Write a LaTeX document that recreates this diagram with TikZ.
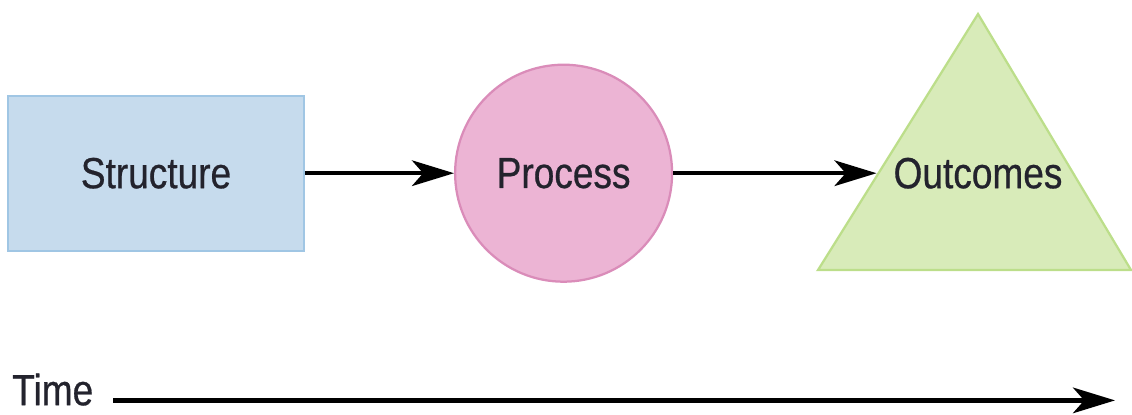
\documentclass[tikz,border=0pt]{standalone}
\usepackage{fontspec}
\setmainfont{Liberation Sans}[FakeStretch=0.85, FakeBold=0.6]
\usepackage{tikz}
\usetikzlibrary{arrows.meta, positioning}
\definecolor{structfill}{RGB}{198,219,237}
\definecolor{structline}{RGB}{160,198,228}
\definecolor{procfill}{RGB}{236,180,212}
\definecolor{procline}{RGB}{218,140,185}
\definecolor{outfill}{RGB}{216,235,185}
\definecolor{outline}{RGB}{188,222,138}
\definecolor{labeltext}{RGB}{35,35,45}

\begin{document}
\begin{tikzpicture}[every node/.style={font=\fontsize{31}{36}\selectfont, text=labeltext},
    flow/.style={line width=3pt, -{Stealth[length=1.05cm, width=0.64cm, inset=0.28cm]}}]
    \useasboundingbox (0,0) rectangle (28.3,10.35);
    % Estrutura, processo e resultados
    \node[draw=structline, fill=structfill, line width=1.4pt,
      minimum width=7.4cm, minimum height=3.875cm] (structure) at (3.9,6.02) {Structure};
    \node[circle, draw=procline, fill=procfill, line width=1.6pt,
      minimum size=5.425cm, inner sep=0pt] (process) at (14.09,6.02) {Process};
    \fill[outfill, draw=outline, line width=1.6pt]
      (20.45,3.6) -- (24.45,10.0) -- (28.275,3.6) -- cycle;
    \node[inner xsep=0.42cm] (outcomes) at (24.45,6.02) {Outcomes};
    \draw[flow] (structure.east) -- (process.west);
    \draw[flow] (process.east) -- (outcomes.west);
    % Eixo do tempo
    \node[anchor=base west, inner sep=0pt] (time) at (0.3,0.22) {Time};
    \coordinate (timestart) at (2.825,0.34);
    \coordinate (timeend) at (27.875,0.34);
    \draw[flow] (timestart) -- (timeend);
  \end{tikzpicture}
\end{document}
